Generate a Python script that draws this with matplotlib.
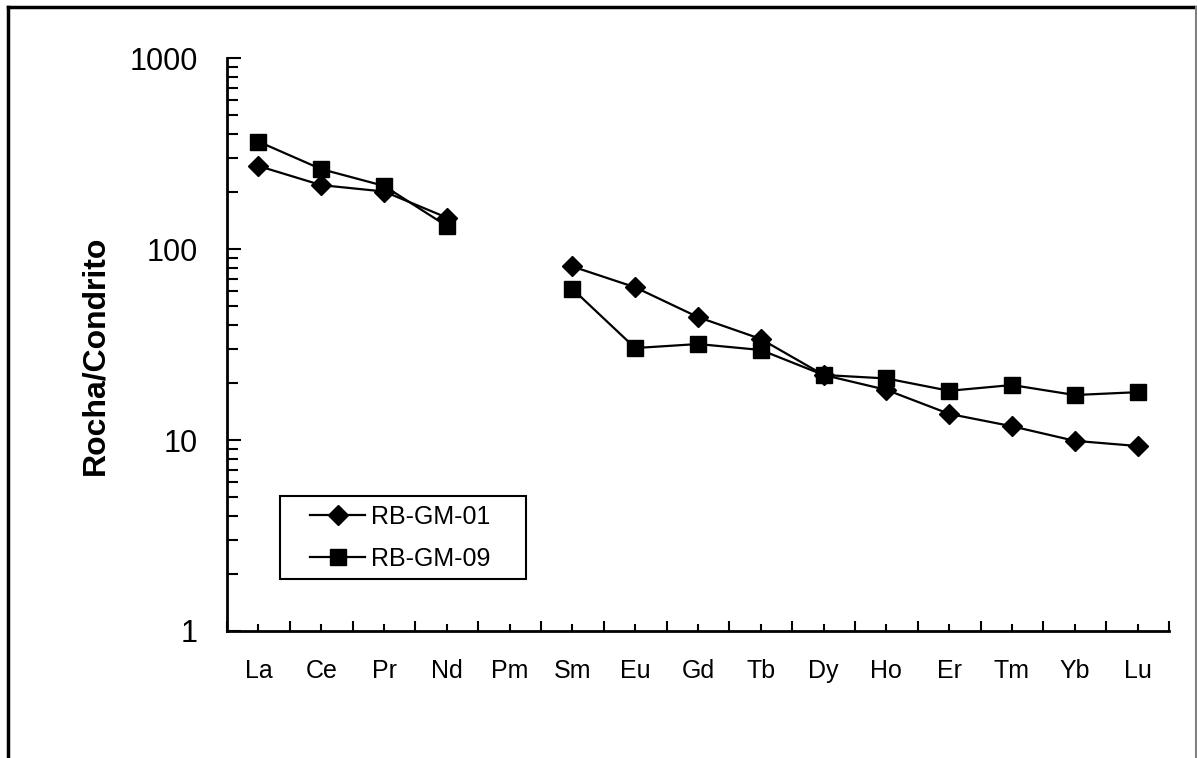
import numpy as np
import matplotlib.pyplot as plt
from matplotlib.lines import Line2D
from matplotlib.patches import Rectangle
from matplotlib.ticker import FixedLocator, NullFormatter, LogLocator

plt.rcParams['font.family'] = ['Liberation Sans', 'DejaVu Sans']

# REE pattern, chondrite normalised
elements = ['La', 'Ce', 'Pr', 'Nd', 'Pm', 'Sm', 'Eu', 'Gd', 'Tb', 'Dy',
            'Ho', 'Er', 'Tm', 'Yb', 'Lu']
rb_gm_01 = [272, 216, 200, 146, np.nan, 81, 63, 44, 33.8, 21.9,
            18.3, 13.7, 11.8, 9.9, 9.3]
rb_gm_09 = [365, 262, 214, 132, np.nan, 61.8, 30.3, 31.8, 29.6, 21.9,
            21.0, 18.1, 19.4, 17.2, 17.8]

W, H = 1197, 758
fig = plt.figure(figsize=(W / 100, H / 100), dpi=100)
ax = fig.add_axes([227 / W, 1 - 631 / H, (1169 - 227) / W, (631 - 58) / H])

x = np.arange(len(elements))
ax.plot(x, rb_gm_01, color='black', lw=1.6, marker='D', ms=10.5,
        label='RB-GM-01')
ax.plot(x, rb_gm_09, color='black', lw=1.6, marker='s', ms=11.5,
        label='RB-GM-09')

ax.set_yscale('log')
ax.set_ylim(1, 1000)
ax.set_xlim(-0.5, len(elements) - 0.5)

ax.set_yticks([1, 10, 100, 1000])
ax.set_yticklabels(['1', '10', '100', '1000'])
ax.yaxis.set_minor_locator(LogLocator(base=10, subs=np.arange(2, 10)))
ax.yaxis.set_minor_formatter(NullFormatter())
ax.tick_params(axis='y', which='major', direction='in', length=10, width=1.5,
               labelsize=22, pad=21)
ax.tick_params(axis='y', which='minor', direction='in', length=8, width=1.5)

ax.set_xticks(x)
ax.set_xticklabels(elements)
ax.xaxis.set_minor_locator(FixedLocator(np.arange(-0.5, len(elements), 1.0)))
ax.tick_params(axis='x', which='major', direction='in', length=5, width=1.5,
               labelsize=18, pad=20)
ax.tick_params(axis='x', which='minor', direction='in', length=7, width=1.5)

for s in ['top', 'right']:
    ax.spines[s].set_visible(False)
for s in ['left', 'bottom']:
    ax.spines[s].set_linewidth(2)

fig.text(95 / W, 1 - 355 / H, 'Rocha/Condrito', rotation=90, ha='center',
         va='center', fontsize=23, fontweight='bold')

# legend without its own frame, box drawn separately like Excel does
leg = ax.legend(loc='upper left', bbox_to_anchor=(310 / W, 1 - 505 / H),
                bbox_transform=fig.transFigure, fontsize=18, frameon=False,
                handlelength=2.2, handletextpad=0.25, borderpad=0,
                labelspacing=0.72, borderaxespad=0)
fig.add_artist(Rectangle((280 / W, 1 - 579 / H), (526 - 280) / W, (579 - 496) / H,
                         transform=fig.transFigure, fill=False,
                         edgecolor='black', lw=1.5))

# outer chart frame (bottom cut off)
fig.add_artist(Line2D([8 / W, 8 / W], [0, 1 - 7 / H], color='black', lw=2.5))
fig.add_artist(Line2D([8 / W, 1196 / W], [1 - 7 / H, 1 - 7 / H], color='black', lw=2.5))
fig.add_artist(Line2D([1196 / W, 1196 / W], [0, 1 - 7 / H], color='gray', lw=1.5))

fig.savefig('out.png', dpi=100)
